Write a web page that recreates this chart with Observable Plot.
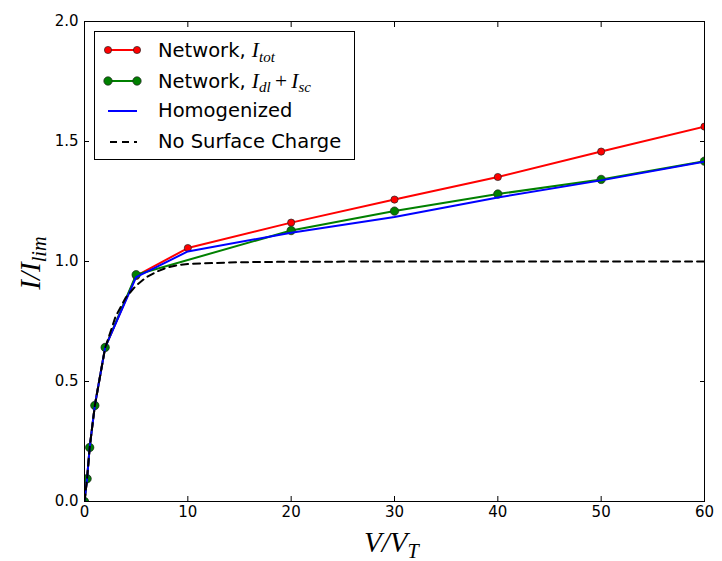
<!DOCTYPE html>
<html>
<head>
<meta charset="utf-8">
<script src="https://cdn.jsdelivr.net/npm/d3@7"></script>
<script src="https://cdn.jsdelivr.net/npm/@observablehq/plot@0.6"></script>
<style>
  body { margin: 0; background: white; }
  #wrap { position: relative; width: 722px; height: 561px; }
  .math { font-family: "Liberation Serif", "DejaVu Serif", serif; font-style: italic; }
  .math sub { font-size: 0.7em; vertical-align: baseline; position: relative; top: 0.3em; }
  #legend .math { font-size: 1.1em; }
  .up { font-style: normal; padding: 0 0.2em; }
  #legend { position: absolute; left: 94px; top: 31px; width: 259px; height: 127px; border: 1px solid black; background: white; font-family: "DejaVu Sans", sans-serif; font-size: 19.5px; }
  .row { position: absolute; left: 0; height: 30px; width: 100%; }
  .row svg { position: absolute; left: 8px; top: 0; }
  .row span.lab { position: absolute; left: 63px; top: 2px; white-space: nowrap; }
  #xlabel { position: absolute; left: 364px; top: 526px; font-size: 29px; }
  #ylabel { position: absolute; left: 30px; top: 263px; font-size: 29px; transform: translate(-50%, -50%) rotate(-90deg); white-space: nowrap; }
  svg text { fill: black; }
</style>
</head>
<body>
<div id="wrap"></div>
<script>
// Network data (total current)
const vNet = [0, 0.25, 0.5, 1, 2, 5, 10, 20, 30, 40, 50, 60];
const iTot = [0, 0.095, 0.225, 0.40, 0.642, 0.94, 1.056, 1.162, 1.258, 1.352, 1.458, 1.562];
// Network data (double layer + surface conduction)
const vDl = [0, 0.25, 0.5, 1, 2, 5, 20, 30, 40, 50, 60];
const iDlSc = [0, 0.095, 0.225, 0.40, 0.642, 0.945, 1.129, 1.21, 1.281, 1.342, 1.418];
// Homogenized model
const vHom = [0, 0.25, 0.5, 1, 2, 5, 10, 20, 30, 40, 50, 60];
const iHom = [0, 0.095, 0.225, 0.40, 0.642, 0.935, 1.042, 1.12, 1.185, 1.267, 1.338, 1.416];
// No surface charge
const vNsc = [0, 0.25, 0.5, 1, 2, 3, 4, 5, 6, 7, 8, 9, 10, 15, 20, 30, 40, 50, 60];
const iNsc = [0, 0.095, 0.225, 0.40, 0.64, 0.77, 0.85, 0.9, 0.935, 0.958, 0.975, 0.985, 0.99, 0.997, 0.999, 1, 1, 1, 1];

const xTicks = [0, 10, 20, 30, 40, 50, 60];
const yTicks = [0, 0.5, 1.0, 1.5, 2.0];

const tot = vNet.map((v, i) => ({v, y: iTot[i]}));
const dl = vDl.map((v, i) => ({v, y: iDlSc[i]}));
const hom = vHom.map((v, i) => ({v, y: iHom[i]}));
const nsc = vNsc.map((v, i) => ({v, y: iNsc[i]}));

const chart = Plot.plot({
  width: 722,
  height: 561,
  marginLeft: 84,
  marginRight: 18,
  marginTop: 21,
  marginBottom: 60,
  x: {domain: [0, 60], label: null},
  y: {domain: [0, 2], label: null},
  style: {fontFamily: "DejaVu Sans", background: "white", overflow: "visible", color: "black"},
  marks: [
    Plot.line(tot, {x: "v", y: "y", stroke: "#ff0000", strokeWidth: 2, clip: true}),
    Plot.dot(tot, {x: "v", y: "y", r: 3.6, fill: "#ff0000", stroke: "#222", strokeWidth: 0.7, clip: true}),
    Plot.line(dl, {x: "v", y: "y", stroke: "#008000", strokeWidth: 2, clip: true}),
    Plot.dot(dl, {x: "v", y: "y", r: 4.2, fill: "#008000", stroke: "#222", strokeWidth: 0.7, clip: true}),
    Plot.line(hom, {x: "v", y: "y", stroke: "#0000ff", strokeWidth: 2, clip: true}),
    Plot.line(nsc, {x: "v", y: "y", stroke: "black", strokeWidth: 2, strokeDasharray: "7,5", clip: true}),
    Plot.frame({stroke: "black", strokeWidth: 1}),
    Plot.axisX({ticks: xTicks, anchor: "bottom", tickSize: -5, text: null, label: null}),
    Plot.axisX({ticks: xTicks, anchor: "top", tickSize: -5, text: null, label: null}),
    Plot.axisY({ticks: yTicks, anchor: "left", tickSize: -5, text: null, label: null}),
    Plot.axisY({ticks: yTicks, anchor: "right", tickSize: -5, text: null, label: null}),
    Plot.axisX({ticks: xTicks, anchor: "bottom", tickSize: 0, tickPadding: 5, fontSize: 15, fill: "black", label: null, tickFormat: d => String(d)}),
    Plot.axisY({ticks: yTicks, anchor: "left", tickSize: 0, tickPadding: 6, fontSize: 15, fill: "black", label: null, tickFormat: d3.format(".1f")})
  ]
});

const wrap = document.getElementById("wrap");
wrap.appendChild(chart);

const legendItems = [
  {label: 'Network, <span class="math">I<sub>tot</sub></span>', color: "#ff0000", marker: 3.6, dash: null},
  {label: 'Network, <span class="math">I<sub>dl</sub><span class="up">+</span>I<sub>sc</sub></span>', color: "#008000", marker: 4.2, dash: null},
  {label: 'Homogenized', color: "#0000ff", marker: 0, dash: null},
  {label: 'No Surface Charge', color: "black", marker: 0, dash: "7,5"}
];
const legend = document.createElement("div");
legend.id = "legend";
legendItems.forEach((it, i) => {
  const row = document.createElement("div");
  row.className = "row";
  row.style.top = (4 + i * 30.5) + "px";
  const sw = `<svg width="40" height="30"><line x1="5" x2="34" y1="14" y2="14" stroke="${it.color}" stroke-width="2" ${it.dash ? `stroke-dasharray="${it.dash}" stroke-dashoffset="-2"` : ""}/>` +
    (it.marker ? `<circle cx="5" cy="14" r="${it.marker}" fill="${it.color}" stroke="#222" stroke-width="0.7"/><circle cx="34" cy="14" r="${it.marker}" fill="${it.color}" stroke="#222" stroke-width="0.7"/>` : "") +
    `</svg>`;
  row.innerHTML = sw + `<span class="lab">${it.label}</span>`;
  legend.appendChild(row);
});
wrap.appendChild(legend);

const xl = document.createElement("div");
xl.id = "xlabel";
xl.className = "math";
xl.innerHTML = 'V/V<sub>T</sub>';
wrap.appendChild(xl);

const yl = document.createElement("div");
yl.id = "ylabel";
yl.className = "math";
yl.innerHTML = 'I/I<sub>lim</sub>';
wrap.appendChild(yl);
</script>
</body>
</html>
